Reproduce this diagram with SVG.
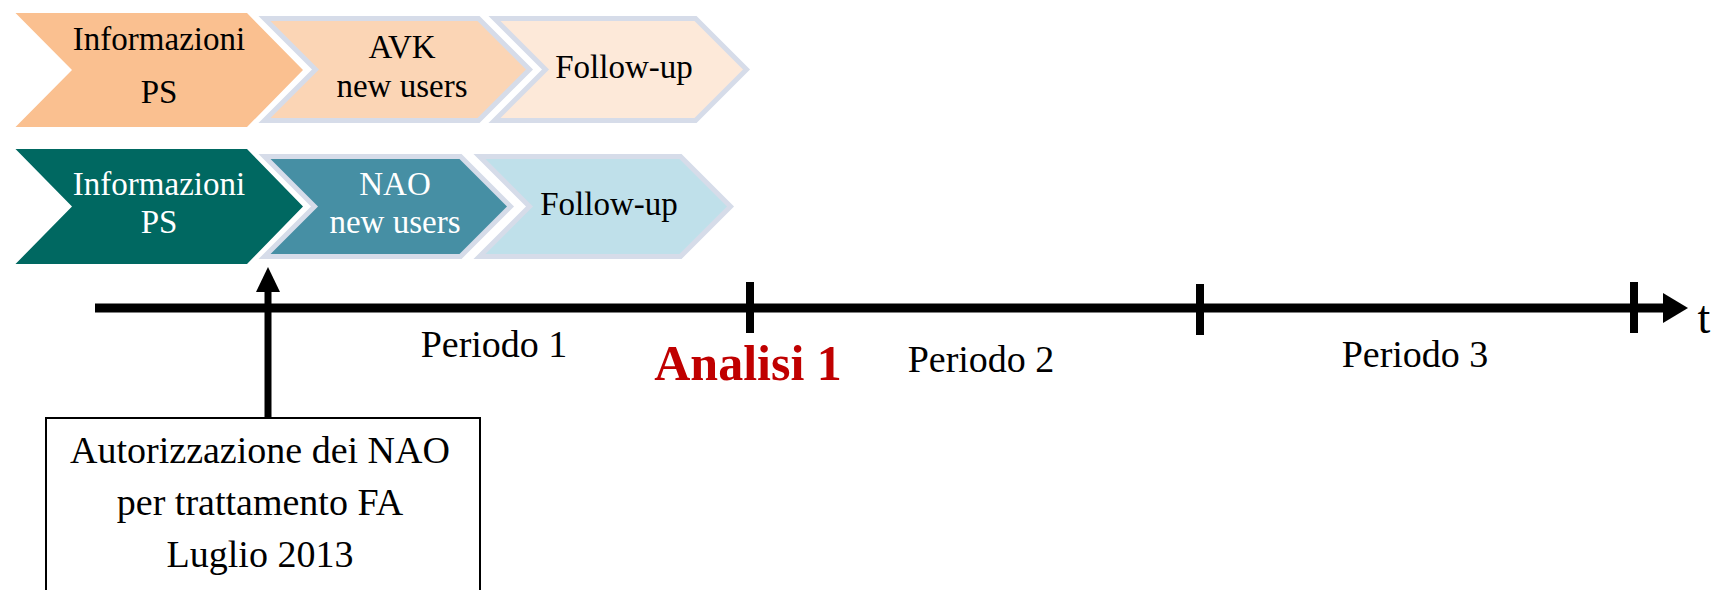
<svg xmlns="http://www.w3.org/2000/svg" width="1717" height="590" viewBox="0 0 1717 590">
<style>
.t{font-family:"Liberation Serif","Times New Roman",serif;text-anchor:middle}
.c{font-size:33px}
.w{fill:#ffffff}
.k{fill:#000000}
.bd{stroke:#D6DCE9;stroke-width:5;stroke-linejoin:miter}
.per{font-size:38px}
</style>
<rect width="1717" height="590" fill="#ffffff"/>
<g id="avk-info">
<polygon points="15.5,13 247,13 303,70 247,127 15.5,127 72,70" fill="#FAC090"/>
<text class="t c k" x="159" y="50">Informazioni</text>
<text class="t c k" x="159" y="103">PS</text>
</g>
<g id="avk-users">
<polygon class="bd" points="264.5,18.5 478.5,18.5 529.5,69.5 478.5,120.5 264.5,120.5 315.5,69.5" fill="#FBD5B5"/>
<text class="t c k" x="402" y="58">AVK</text>
<text class="t c k" x="402" y="97">new users</text>
</g>
<g id="avk-follow">
<polygon class="bd" points="494.5,18.5 695.5,18.5 746.5,69.5 695.5,120.5 494.5,120.5 545.5,69.5" fill="#FDE9D9"/>
<text class="t c k" x="624" y="78">Follow-up</text>
</g>
<g id="nao-info">
<polygon points="15.5,149 247,149 303,206.5 247,264 15.5,264 72,206.5" fill="#006861"/>
<text class="t c w" x="159" y="195">Informazioni</text>
<text class="t c w" x="159" y="233">PS</text>
</g>
<g id="nao-users">
<polygon class="bd" points="264.5,156.5 460.5,156.5 510.5,206.5 460.5,256.5 264.5,256.5 314.5,206.5" fill="#468FA4"/>
<text class="t c w" x="395" y="195">NAO</text>
<text class="t c w" x="395" y="233">new users</text>
</g>
<g id="nao-follow">
<polygon class="bd" points="479.5,156.5 680.5,156.5 730.5,206.5 680.5,256.5 479.5,256.5 529.5,206.5" fill="#BFE0EA"/>
<text class="t c k" x="609" y="215">Follow-up</text>
</g>
<g id="connectors">
<line x1="95" y1="308" x2="1668" y2="308" stroke="#000" stroke-width="9"/>
<polygon points="1663,293 1688,308 1663,323" fill="#000"/>
<line x1="750" y1="282" x2="750" y2="333" stroke="#000" stroke-width="8"/>
<line x1="1200" y1="284" x2="1200" y2="335" stroke="#000" stroke-width="8"/>
<line x1="1634" y1="282" x2="1634" y2="333" stroke="#000" stroke-width="8"/>
<line x1="268" y1="418" x2="268" y2="290" stroke="#000" stroke-width="7"/>
<polygon points="256,292 268,267 280,292" fill="#000"/>
</g>
<g id="axis-labels">
<text class="t" x="1704" y="333" font-size="46">t</text>
<text class="t per" x="494" y="357">Periodo 1</text>
<text class="t" x="748" y="380" font-size="50" font-weight="bold" fill="#C00000">Analisi 1</text>
<text class="t per" x="981" y="372">Periodo 2</text>
<text class="t per" x="1415" y="367">Periodo 3</text>
</g>
<g id="authorization">
<rect x="46" y="418" width="434" height="190" fill="#ffffff" stroke="#000" stroke-width="2"/>
<text class="t" x="260" y="463" font-size="38">Autorizzazione dei NAO</text>
<text class="t" x="260" y="515" font-size="38">per trattamento FA</text>
<text class="t" x="260" y="567" font-size="38">Luglio 2013</text>
</g>
</svg>
